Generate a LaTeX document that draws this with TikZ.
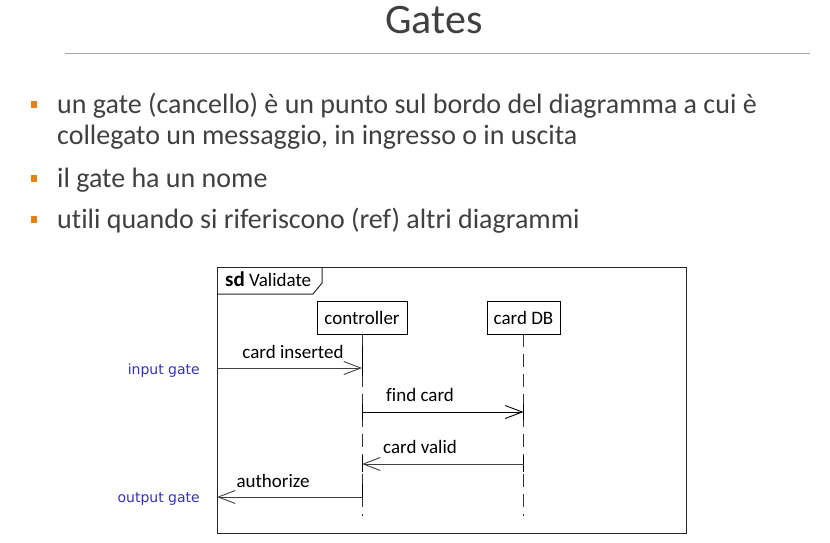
\documentclass[tikz,border=0pt]{standalone}
\usepackage{fontspec}
\setmainfont{Carlito}[Ligatures=NoCommon]
\newfontfamily\gatefont{DejaVu Sans}
\usetikzlibrary{arrows.meta}
\definecolor{titlegray}{HTML}{404040}
\definecolor{rulegray}{HTML}{A6A6A6}
\definecolor{bulletorange}{HTML}{E48312}
\definecolor{gateblue}{HTML}{3030C8}
\definecolor{linegray}{HTML}{404040}
\tikzset{
  bullettext/.style={anchor=base west, inner sep=0pt, text=titlegray, font=\fontsize{28}{33}\selectfont},
  bulletsq/.style={fill=bulletorange, draw=none, minimum width=6pt, minimum height=7pt, inner sep=0pt},
  lifebox/.style={draw=black, line width=0.9pt, minimum height=33pt, inner sep=0pt, font=\fontsize{19}{22}\selectfont},
  lifeline/.style={draw=black!80, line width=0.9pt, dash pattern=on 13pt off 7pt},
  msg/.style={draw=linegray, line width=1pt, -{Straight Barb[length=17pt,width=13pt,line width=0.9pt]}},
  msglabel/.style={anchor=base, inner sep=0pt, font=\fontsize{19}{22}\selectfont},
  gatelabel/.style={anchor=base east, inner sep=0pt, text=gateblue, font=\gatefont\fontsize{14}{17}\selectfont},
}
\begin{document}
\begin{tikzpicture}[x=1pt,y=-1pt]
\useasboundingbox (0,0) rectangle (830,542);
% title
\node[anchor=base, inner sep=0pt, text=titlegray, font=\fontsize{42}{50}\selectfont] (title) at (434,33) {Gates};
\coordinate (ruleL) at (65,53);
\coordinate (ruleR) at (810,53);
\draw[rulegray, line width=1pt] (ruleL) -- (ruleR);
% bullets
\node[bulletsq] (b1) at (34,104) {};
\node[bullettext] (t1) at (57,113) {un gate (cancello) è un punto sul bordo del diagramma a cui è};
\node[bullettext] (t1b) at (57,144) {collegato un messaggio, in ingresso o in uscita};
\node[bulletsq] (b2) at (34,178) {};
\node[bullettext] (t2) at (57,187) {il gate ha un nome};
\node[bulletsq] (b3) at (34,219) {};
\node[bullettext] (t3) at (57,228) {utili quando si riferiscono (ref) altri diagrammi};
% frame
\coordinate (fTL) at (217,267);
\coordinate (fBR) at (686,533);
\draw[black!85, line width=1pt] (fTL) rectangle (fBR);
\draw[black!85, line width=1pt] (217,294) -- (313,294) -- (322,283) -- (322,267);
\node[anchor=base west, inner sep=0pt, font=\fontsize{19}{22}\selectfont] (framelabel) at (225,286) {{\fontsize{21}{24}\selectfont\textbf{sd}} Validate};
% lifelines
\node[lifebox, minimum width=90pt] (ctrl) at (362,317.5) {controller};
\node[lifebox, minimum width=73pt] (cdb) at (523.5,317.5) {card DB};
\coordinate (ctrlEnd) at (362,516);
\coordinate (cdbEnd) at (523.5,516);
\draw[lifeline] (ctrl.south) -- (ctrlEnd);
\draw[lifeline] (cdb.south) -- (cdbEnd);
% gates
\coordinate (ingate) at (217,368);
\coordinate (outgate) at (217,497);
\node[gatelabel] (inlabel) at (200,374) {input gate};
\node[gatelabel] (outlabel) at (200,502) {output gate};
% messages
\coordinate (m1e) at (362,368);
\coordinate (m2s) at (362,412);
\coordinate (m2e) at (523.5,412);
\coordinate (m3s) at (523.5,464);
\coordinate (m3e) at (362,464);
\coordinate (m4s) at (362,497);
\draw[black, line width=1pt] (362,346) -- (362,376);
\draw[black, line width=1pt] (362,404) -- (362,420);
\draw[black, line width=1pt] (523.5,404) -- (523.5,420);
\draw[black, line width=1pt] (523.5,456) -- (523.5,472);
\draw[black, line width=1pt] (362,456) -- (362,472);
\draw[black, line width=1pt] (362,484) -- (362,497);
\draw[msg] (ingate) -- (m1e);
\draw[msg, draw=black] (m2s) -- (m2e);
\draw[msg] (m3s) -- (m3e);
\draw[msg] (m4s) -- (outgate);
\node[msglabel] (l1) at (293,358) {card inserted};
\node[msglabel] (l2) at (420,401) {find card};
\node[msglabel] (l3) at (420,453) {card valid};
\node[msglabel] (l4) at (273,487) {authorize};
\end{tikzpicture}
\end{document}
